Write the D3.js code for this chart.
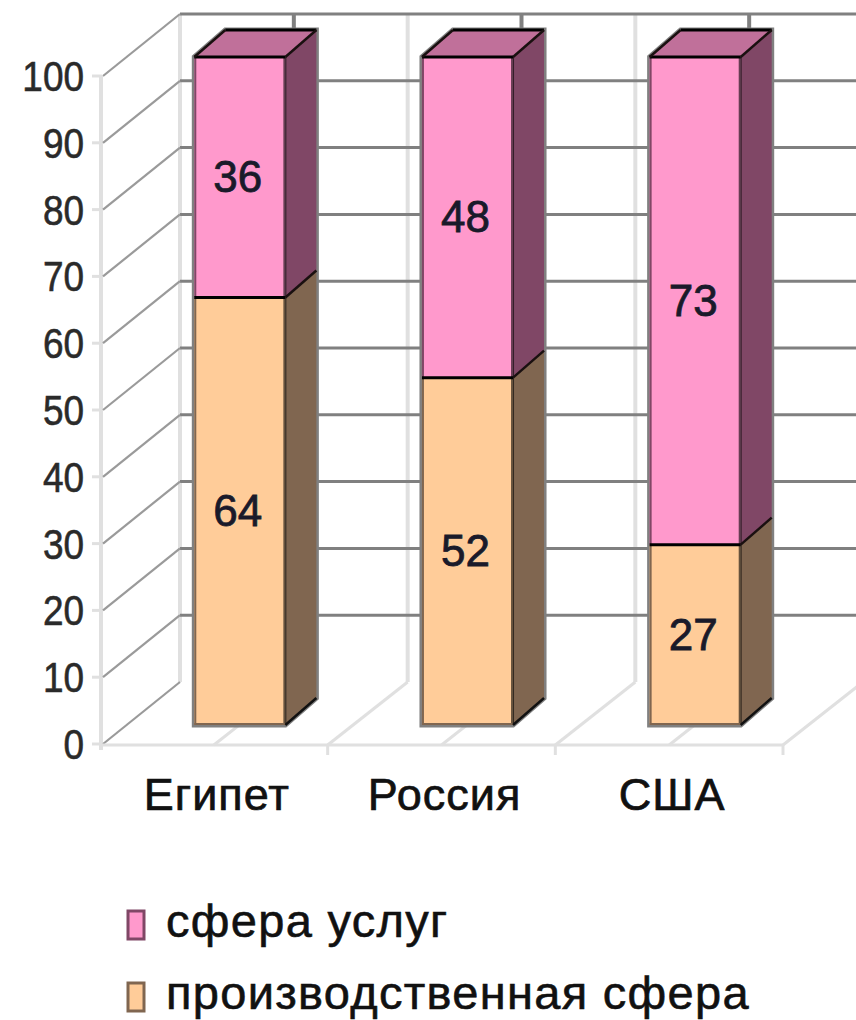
<!DOCTYPE html>
<html><head><meta charset="utf-8">
<script src="https://cdn.jsdelivr.net/npm/d3@7"></script>
<style>html,body{margin:0;padding:0;background:#fff;}svg{display:block;}</style>
</head><body>
<script>
const categories = ["Египет", "Россия", "США"];
const production = [64, 52, 27];
const services = [36, 48, 73];
const seriesNames = ["сфера услуг", "производственная сфера"];
const yTicks = [0, 10, 20, 30, 40, 50, 60, 70, 80, 90, 100];

const W = 856, H = 1020;
const WALL = {dx: 80, dy: -62}, FRONT = {dx: 26, dy: -19}, DEPTH = {dx: 31, dy: -27};
const LIGHT = "#e0e0e0", DARK = "#808080";
const colors = {
  production: {front: "#ffcc99", side: "#806650", top: "#c09870"},
  services: {front: "#ff99cc", side: "#804766", top: "#c0709a"}
};

const table = categories.map((c, i) => ({cat: c, production: production[i], services: services[i]}));
const keys = ["production", "services"];
const stack = d3.stack().keys(keys)(table);

const x = d3.scaleBand().domain(categories).range([100, 783]).paddingInner(0).paddingOuter(0);
const y = d3.scaleLinear().domain([0, 100]).range([744, 76]);
const bw = x.bandwidth();
const barW = bw * 0.4;

const svg = d3.select("body").append("svg").attr("width", W).attr("height", H)
  .style("font-family", "'Liberation Sans', Arial, sans-serif");

const line = (g, x1, y1, x2, y2, col, w) => g.append("line")
  .attr("x1", x1).attr("y1", y1).attr("x2", x2).attr("y2", y2)
  .attr("stroke", col).attr("stroke-width", w);

// ---------- walls & floor ----------
const grid = svg.append("g");
const x0 = x.range()[0], x1 = x.range()[1];
const boundaries = [x0, ...categories.slice(1).map(c => x(c)), x1];
const centers = categories.map(c => x(c) + bw / 2);

boundaries.forEach(b => line(grid, b + WALL.dx, y(100) + WALL.dy, b + WALL.dx, y(0) + WALL.dy, LIGHT, 4));
centers.forEach(c => line(grid, c + WALL.dx, y(100) + WALL.dy, c + WALL.dx, y(0) + WALL.dy, DARK, 4));
yTicks.forEach(v => {
  if (v === 0) return;
  line(grid, x0 + WALL.dx, y(v) + WALL.dy, x1 + WALL.dx, y(v) + WALL.dy, DARK, 3);
});
line(grid, x0 + 1, y(100), x0 + 1, y(0) + 6, LIGHT, 4);
yTicks.forEach(v => {
  line(grid, x0 - 8, y(v), x0 + 2, y(v), LIGHT, 3);
  line(grid, x0 + 3, y(v), x0 + WALL.dx, y(v) + WALL.dy, "#9a9a9a", 2.2);
});
line(grid, x0, y(0) + 1, x1, y(0) + 1, LIGHT, 3);
boundaries.slice(1).forEach(b => {
  line(grid, b, y(0) + 1, b + WALL.dx, y(0) + WALL.dy, LIGHT, 3);
  line(grid, b, y(0) + 1, b, y(0) + 11, LIGHT, 3);
});
centers.forEach(c => line(grid, c, y(0) + 1, c + WALL.dx, y(0) + WALL.dy, LIGHT, 3));

// ---------- bars ----------
const bars = svg.append("g");
categories.forEach((c, i) => {
  const fx0 = x(c) + (bw - barW) / 2 + FRONT.dx;
  const fx1 = fx0 + barW;
  const total = production[i] + services[i];
  const yb = y(0) + FRONT.dy, yt = y(total) + FRONT.dy;
  bars.append("path").attr("d", d3.line()([
    [fx0, yb], [fx0, yt], [fx0 + DEPTH.dx, yt + DEPTH.dy], [fx1 + DEPTH.dx, yt + DEPTH.dy],
    [fx1 + DEPTH.dx, yb + DEPTH.dy], [fx1, yb]]) + "Z")
    .attr("fill", DARK).attr("stroke", DARK).attr("stroke-width", 5).attr("stroke-linejoin", "miter");

  stack.forEach(s => {
    const d = s[i];
    const col = colors[s.key];
    const fy0 = y(d[0]) + FRONT.dy, fy1 = y(d[1]) + FRONT.dy;
    bars.append("path").attr("d", d3.line()([
      [fx1, fy0], [fx1, fy1], [fx1 + DEPTH.dx, fy1 + DEPTH.dy], [fx1 + DEPTH.dx, fy0 + DEPTH.dy]]) + "Z")
      .attr("fill", col.side);
    bars.append("rect").attr("x", fx0).attr("y", fy1).attr("width", barW).attr("height", fy0 - fy1)
      .attr("fill", col.front);
    line(bars, fx0 + 1, fy1, fx0 + 1, fy0, col.side, 2);
    line(bars, fx1 - 0.5, fy1, fx1 - 0.5, fy0, "rgba(0,0,0,0.6)", 3);
  });
  line(bars, fx0, yb - 1, fx1, yb - 1, colors.production.side, 2);
  line(bars, fx1, yb, fx1 + DEPTH.dx, yb + DEPTH.dy, "#111", 2.5);
  const yc = y(production[i]) + FRONT.dy;
  line(bars, fx0, yc, fx1, yc, "#000", 3);
  line(bars, fx1, yc, fx1 + DEPTH.dx, yc + DEPTH.dy, "#1a1010", 2.5);
  const col = colors.services;
  bars.append("path").attr("d", d3.line()([
    [fx0, yt], [fx0 + DEPTH.dx, yt + DEPTH.dy], [fx1 + DEPTH.dx, yt + DEPTH.dy], [fx1, yt]]) + "Z")
    .attr("fill", col.top);
  line(bars, fx0, yt, fx1, yt, "#000", 3);
  line(bars, fx0 + DEPTH.dx, yt + DEPTH.dy, fx1 + DEPTH.dx, yt + DEPTH.dy, "#000", 3);
  line(bars, fx0, yt, fx0 + DEPTH.dx, yt + DEPTH.dy, "#1a1010", 2.5);
  line(bars, fx1, yt, fx1 + DEPTH.dx, yt + DEPTH.dy, "#1a1010", 2.5);

  stack.forEach(s => {
    const d = s[i];
    const fy0 = y(d[0]) + FRONT.dy, fy1 = y(d[1]) + FRONT.dy;
    svg.append("text").attr("x", (fx0 + fx1) / 2 - 2).attr("y", (fy0 + fy1) / 2 + 15)
      .attr("text-anchor", "middle").attr("font-size", 44).attr("fill", "#1a1a2a")
      .attr("stroke", "#1a1a2a").attr("stroke-width", 0.8)
      .text(d[1] - d[0]);
  });
});

// ---------- axis labels ----------
yTicks.forEach(v => {
  svg.append("text").attr("transform", `translate(84,${y(v) + 15}) scale(0.88,1)`)
    .attr("text-anchor", "end").attr("font-size", 42).attr("fill", "#2a2a2a")
    .attr("stroke", "#2a2a2a").attr("stroke-width", 0.6).text(v);
});
categories.forEach(c => {
  svg.append("text").attr("x", x(c) + bw / 2 + 3).attr("y", 810)
    .attr("text-anchor", "middle").attr("font-size", 45).attr("fill", "#111")
    .attr("letter-spacing", 1).attr("stroke", "#111").attr("stroke-width", 0.7).text(c);
});

// ---------- legend ----------
const legendKeys = ["services", "production"];
legendKeys.forEach((k, i) => {
  const ly = [937, 1009][i];
  svg.append("rect").attr("x", 128).attr("y", ly - 26).attr("width", 16).attr("height", 28)
    .attr("fill", colors[k].front).attr("stroke", colors[k].side).attr("stroke-width", 3);
  svg.append("text").attr("x", 166).attr("y", ly).attr("font-size", 47).attr("fill", "#111")
    .attr("letter-spacing", 1.3).attr("stroke", "#111").attr("stroke-width", 0.6)
    .text(seriesNames[i]);
});
</script>
</body></html>
